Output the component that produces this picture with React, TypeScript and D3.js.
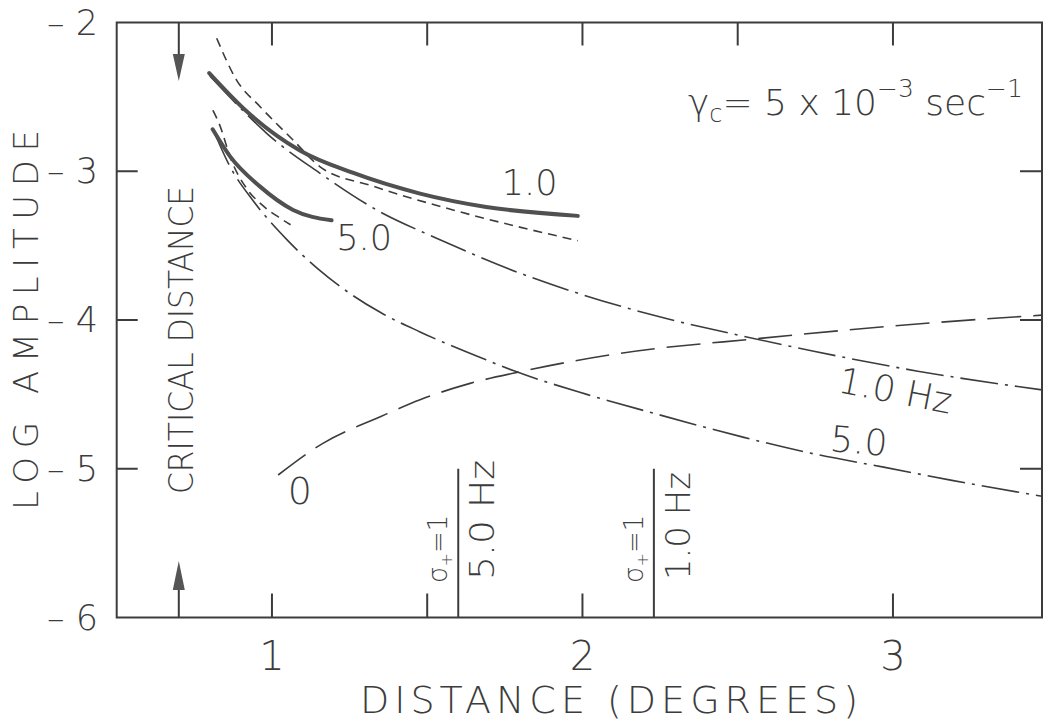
import React from "react";
import * as d3 from "d3";

const W = 1044;
const H = 723;

// Axis ticks
const X_LABELS = [1, 2, 3];
const X_TOP_TICKS = [1, 1.5, 2, 2.5, 3];
const X_BOTTOM_TICKS = [1, 1.5, 2, 3];
const Y_LABELS = [-2, -3, -4, -5, -6];
const Y_INNER_TICKS = [-3, -4, -5];

// Critical distance (degrees) and the sigma+ = 1 distances
const CRITICAL_DISTANCE = 0.7;
const SIGMA_DIST = [1.6, 2.23];
const SIGMA_FREQ = ["5.0 Hz", "1.0 Hz"];
const SIGMA_LINE_TOP = -5.0;

// 1.0 Hz, full solution (thick)
const full10X = [0.798, 0.92, 1.09, 1.26, 1.477, 1.69, 1.985];
const full10Y = [-2.34, -2.6, -2.86, -3.01, -3.15, -3.24, -3.3];

// 5.0 Hz, full solution (thick)
const full50X = [0.809, 0.865, 0.96, 1.068, 1.192];
const full50Y = [-2.718, -2.9, -3.1, -3.26, -3.33];

// 1.0 Hz, short-dashed approximation
const dash10X = [0.822, 0.886, 0.962, 1.068, 1.155, 1.325, 1.583, 1.985];
const dash10Y = [-2.106, -2.387, -2.566, -2.79, -2.97, -3.1, -3.26, -3.467];

// 5.0 Hz, short-dashed approximation
const dash50X = [0.81, 0.83, 0.87, 0.92, 0.97, 1.03, 1.06];
const dash50Y = [-2.59, -2.68, -2.93, -3.12, -3.23, -3.32, -3.36];

// 1.0 Hz, dash-dot approximation
const dd10X = [0.8, 0.92, 0.983, 1.155, 1.337, 1.53, 1.8, 2.0, 2.27, 2.52, 2.745, 3.08, 3.48];
const dd10Y = [-2.36, -2.62, -2.745, -3.014, -3.26, -3.45, -3.686, -3.83, -3.99, -4.11, -4.21, -4.344, -4.47];

// 5.0 Hz, dash-dot approximation
const dd50X = [0.811, 0.865, 0.94, 1.048, 1.15, 1.25, 1.35, 1.477, 1.692, 1.777, 2.014, 2.24, 2.52, 2.745, 2.97, 3.19, 3.48];
const dd50Y = [-2.723, -2.969, -3.2, -3.46, -3.66, -3.82, -3.95, -4.08, -4.27, -4.34, -4.5, -4.633, -4.789, -4.9, -4.989, -5.078, -5.185];

// 0 Hz, long-dashed
const zeroX = [1.02, 1.164, 1.349, 1.477, 1.638, 1.799, 2.121, 2.58, 3.0, 3.48];
const zeroY = [-5.042, -4.829, -4.65, -4.536, -4.426, -4.348, -4.224, -4.122, -4.04, -3.967];

const INK = "#3c3c3c";
const FONT = "'DejaVu Sans', sans-serif";

const x = d3.scaleLinear().domain([0.5, 3.48]).range([116.7, 1042]);
const y = d3.scaleLinear().domain([-2, -6]).range([22.5, 617.5]);

const line = d3
  .line<[number, number]>()
  .x((d) => x(d[0]))
  .y((d) => y(d[1]))
  .curve(d3.curveMonotoneX);

const zip = (xs: number[], ys: number[]) =>
  xs.map((v, i) => [v, ys[i]] as [number, number]);

const curves = [
  { xs: dash10X, ys: dash10Y, w: 1.6, dash: "9,6", thick: false },
  { xs: dash50X, ys: dash50Y, w: 1.6, dash: "9,6", thick: false },
  { xs: dd10X, ys: dd10Y, w: 1.6, dash: "38,7,3,7", thick: false },
  { xs: dd50X, ys: dd50Y, w: 1.6, dash: "38,7,3,7", thick: false },
  { xs: zeroX, ys: zeroY, w: 1.6, dash: "34,12", thick: false },
  { xs: full10X, ys: full10Y, w: 4, dash: undefined, thick: true },
  { xs: full50X, ys: full50Y, w: 4, dash: undefined, thick: true },
];

export default function App() {
  const [x0, x1] = x.range();
  const [yTop, yBot] = y.range();
  const xc = x(CRITICAL_DISTANCE);

  return (
    <svg
      width={W}
      height={H}
      style={{ position: "absolute", left: 0, top: 0, background: "#fff" }}
      fontFamily={FONT}
      fill={INK}
    >
      <rect width={W} height={H} fill="#fff" />

      {/* frame */}
      <rect
        x={x0}
        y={yTop}
        width={x1 - x0}
        height={yBot - yTop}
        fill="none"
        stroke={INK}
        strokeWidth={2}
      />

      {/* x ticks, top and bottom */}
      {X_TOP_TICKS.map((t) => (
        <line key={"xtt" + t} x1={x(t)} x2={x(t)} y1={yTop} y2={yTop + 23} stroke={INK} strokeWidth={2} />
      ))}
      {X_BOTTOM_TICKS.map((t) => (
        <line key={"xtb" + t} x1={x(t)} x2={x(t)} y1={yBot} y2={yBot - 24} stroke={INK} strokeWidth={2} />
      ))}
      {X_LABELS.map((t) => (
        <text
          key={"xl" + t}
          x={x(t)}
          y={yBot + 52}
          fontSize={40}
          fontWeight={300}
          textAnchor="middle"
        >
          {t}
        </text>
      ))}

      {/* y ticks, left and right */}
      {Y_INNER_TICKS.map((t) => (
        <g key={"yt" + t} stroke={INK} strokeWidth={2}>
          <line x1={x0} x2={x0 + 21} y1={y(t)} y2={y(t)} />
          <line x1={x1} x2={x1 - 22} y1={y(t)} y2={y(t)} />
        </g>
      ))}
      {Y_LABELS.map((t) => (
        <text
          key={"yl" + t}
          x={98}
          y={y(t) + 12}
          fontSize={35}
          fontWeight={300}
          textAnchor="end"
        >
          {"– " + Math.abs(t)}
        </text>
      ))}

      {/* axis titles */}
      <text
        transform={`translate(38,510) rotate(-90)`}
        fontSize={34}
        fontWeight={300}
        textLength={380}
        lengthAdjust="spacing"
      >
        LOG AMPLITUDE
      </text>
      <text
        x={360}
        y={713}
        fontSize={38}
        fontWeight={300}
        textLength={498}
        lengthAdjust="spacing"
      >
        DISTANCE (DEGREES)
      </text>

      {/* critical distance markers */}
      <g stroke={INK} strokeWidth={2}>
        <line x1={xc} x2={xc} y1={yTop} y2={58} />
        <line x1={xc} x2={xc} y1={yBot} y2={588} />
      </g>
      <path d={`M${xc - 6},54 L${xc + 6},54 L${xc},81 Z`} fill="#555" />
      <path d={`M${xc - 6},590 L${xc + 6},590 L${xc},561 Z`} fill="#555" />
      <text
        transform={`translate(${xc + 14},494) rotate(-90)`}
        fontSize={34}
        fontWeight={300}
        textLength={308}
        lengthAdjust="spacingAndGlyphs"
      >
        CRITICAL DISTANCE
      </text>

      {/* sigma+ = 1 distances */}
      {SIGMA_DIST.map((d, i) => (
        <g key={"s" + d}>
          <line
            x1={x(d)}
            x2={x(d)}
            y1={y(SIGMA_LINE_TOP)}
            y2={yBot}
            stroke={INK}
            strokeWidth={2}
          />
          <text
            transform={`translate(${x(d) - 11},583) rotate(-90)`}
            fontSize={26}
            fontWeight={300}
          >
            <tspan>σ</tspan>
            <tspan fontSize={16} dy={5}>
              +
            </tspan>
            <tspan dy={-5}>=1</tspan>
          </text>
          <text
            transform={`translate(${x(d) + 36},580) rotate(-90)`}
            fontSize={33}
            fontWeight={300}
            textLength={i === 0 ? 120 : 108}
            lengthAdjust="spacingAndGlyphs"
          >
            {SIGMA_FREQ[i]}
          </text>
        </g>
      ))}

      {/* curves */}
      {curves.map((c, i) => (
        <path
          key={"c" + i}
          d={line(zip(c.xs, c.ys)) || ""}
          fill="none"
          stroke={c.thick ? "#505050" : INK}
          strokeWidth={c.w}
          strokeDasharray={c.dash}
          strokeLinecap={c.thick ? "round" : "butt"}
        />
      ))}

      {/* curve labels */}
      <text x={x(1.83)} y={y(-3.07) + 13} fontSize={35} fontWeight={300} textAnchor="middle">
        1.0
      </text>
      <text x={x(1.297)} y={y(-3.45) + 12} fontSize={35} fontWeight={300} textAnchor="middle">
        5.0
      </text>
      <text
        transform={`translate(${x(3.0)},${y(-4.47) + 13}) rotate(11)`}
        fontSize={36}
        fontWeight={300}
        textAnchor="middle"
      >
        1.0 Hz
      </text>
      <text
        transform={`translate(${x(2.887)},${y(-4.81) + 13}) rotate(5)`}
        fontSize={36}
        fontWeight={300}
        textAnchor="middle"
      >
        5.0
      </text>
      <text x={x(1.09)} y={y(-5.14) + 14} fontSize={38} fontWeight={300} textAnchor="middle">
        0
      </text>

      {/* gamma_c note */}
      <text x={688} y={115} fontSize={36} fontWeight={300}>
        <tspan>γ</tspan>
        <tspan fontSize={24} dy={7}>c</tspan>
        <tspan dy={-7}>= 5 x 10</tspan>
        <tspan fontSize={25} dy={-18}>−3</tspan>
        <tspan dy={18}> sec</tspan>
        <tspan fontSize={25} dy={-18}>−1</tspan>
      </text>
    </svg>
  );
}
